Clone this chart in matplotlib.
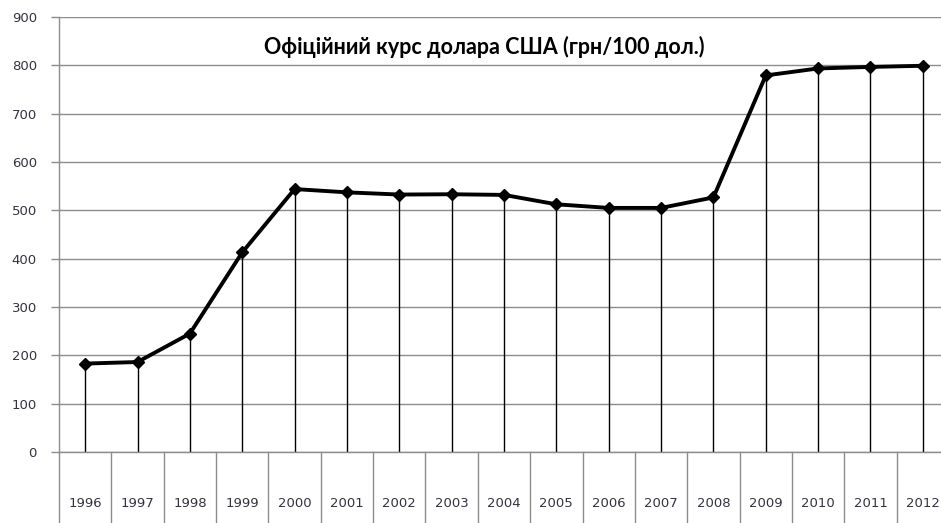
import matplotlib as mpl
mpl.use("Agg")
import matplotlib.pyplot as plt

years = ["1996", "1997", "1998", "1999", "2000", "2001", "2002", "2003", "2004",
         "2005", "2006", "2007", "2008", "2009", "2010", "2011", "2012"]
rate = [182.95, 186.17, 244.95, 413.04, 544.02, 537.21, 532.66, 533.27, 531.92,
        512.47, 505.0, 505.0, 526.72, 779.12, 793.56, 796.76, 799.1]
yticks = [0, 100, 200, 300, 400, 500, 600, 700, 800, 900]
title = "Офіційний курс долара США (грн/100 дол.)"

GRID = "#8c8c8c"
TXT = "#333340"
FONT = ["DejaVu Sans"]

fig = plt.figure(figsize=(9.41, 5.23), dpi=100)
W, H = 941, 523
ax = fig.add_axes([59 / W, (H - 452) / H, (949 - 59) / W, (452 - 17) / H])

x = list(range(len(years)))
ax.vlines(x, 0, rate, color="black", lw=1.0, zorder=2)
ax.plot(x, rate, color="black", lw=2.8, marker="D", ms=6.5, zorder=3,
        solid_joinstyle="round")

ax.set_xlim(-0.5, len(years) - 0.5)
ax.set_ylim(0, 900)
ax.set_yticks(yticks)
ax.set_yticklabels([str(v) for v in yticks])
for lab in ax.get_yticklabels():
    lab.set_fontfamily(FONT)
    lab.set_fontsize(9.5)
    lab.set_color(TXT)
ax.yaxis.grid(True, color=GRID, lw=1.0)
ax.set_axisbelow(True)
ax.tick_params(axis="y", direction="out", length=6, color=GRID, width=1, pad=10)
ax.set_xticks([])
for s in ("top", "right"):
    ax.spines[s].set_visible(False)
for s in ("left", "bottom"):
    ax.spines[s].set_color(GRID)
    ax.spines[s].set_linewidth(1.0)

# category boxes below the axis
for i in range(len(years) + 1):
    ax.plot([i - 0.5, i - 0.5], [0, -160], color=GRID, lw=1.0, clip_on=False)
for i, yr in enumerate(years):
    ax.text(i, -107, yr, ha="center", va="center", fontsize=9.5, color=TXT,
            family=FONT, clip_on=False)

fig.text(484 / W, 1 - 47 / H, title, ha="center", va="center", fontsize=15.5,
         fontweight="bold", family=["Lato", "DejaVu Sans"], color="black")

fig.savefig("out.png", dpi=100)
